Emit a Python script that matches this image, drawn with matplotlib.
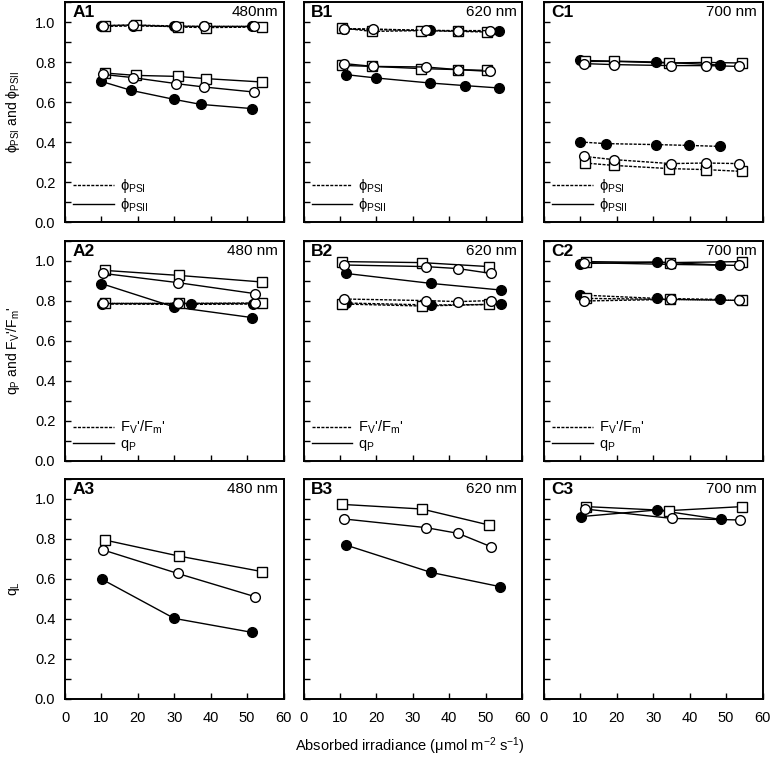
import matplotlib
matplotlib.use("Agg")
import matplotlib.pyplot as plt
from matplotlib.lines import Line2D
from matplotlib.ticker import MultipleLocator, FormatStrFormatter

plt.rcParams["font.family"] = ["Liberation Sans", "DejaVu Sans"]
plt.rcParams["mathtext.default"] = "regular"

# ---- Row 1: phi_PSI (dashed) and phi_PSII (solid) ----
A1_FILL_PSI_X = [10.0, 18.6, 30.0, 38.2, 51.4]
A1_FILL_PSI = [0.978, 0.98, 0.978, 0.978, 0.978]
A1_FILL_X = [10.0, 18.2, 30.0, 37.3, 51.4]
A1_FILL_PSII = [0.703, 0.658, 0.613, 0.588, 0.567]
A1_OPEN_X = [10.5, 18.6, 30.5, 38.2, 51.8]
A1_OPEN_PSI = [0.982, 0.985, 0.98, 0.978, 0.978]
A1_OPEN_PSII = [0.738, 0.722, 0.692, 0.675, 0.650]
A1_SQ_X = [10.9, 19.4, 30.9, 38.6, 54.1]
A1_SQ_PSI = [0.982, 0.985, 0.975, 0.972, 0.975]
A1_SQ_PSII = [0.745, 0.733, 0.728, 0.717, 0.700]

B1_FILL_PSI_X = [11.2, 19.1, 34.7, 42.3, 53.8]
B1_FILL_PSI = [0.965, 0.962, 0.958, 0.955, 0.953]
B1_FILL_X = [11.6, 20.0, 34.7, 44.3, 53.8]
B1_FILL_PSII = [0.737, 0.720, 0.695, 0.682, 0.670]
B1_OPEN_X = [11.2, 19.1, 33.6, 42.3, 51.2]
B1_OPEN_PSI = [0.967, 0.965, 0.958, 0.957, 0.957]
B1_OPEN_PSII = [0.792, 0.778, 0.775, 0.762, 0.753]
B1_SQ_X = [10.5, 18.8, 32.3, 42.3, 50.5]
B1_SQ_PSI = [0.970, 0.953, 0.957, 0.953, 0.950]
B1_SQ_PSII = [0.783, 0.778, 0.767, 0.762, 0.758]

C1_FILL_PSI_X = [10.0, 16.9, 30.7, 39.8, 48.2]
C1_FILL_PSI = [0.400, 0.392, 0.387, 0.383, 0.378]
C1_FILL_X = [10.0, 30.7, 48.2]
C1_FILL_PSII = [0.808, 0.800, 0.785]
C1_OPEN_X = [11.0, 19.1, 34.8, 44.5, 53.5]
C1_OPEN_PSI = [0.328, 0.312, 0.292, 0.295, 0.292]
C1_OPEN_PSII = [0.792, 0.787, 0.782, 0.782, 0.778]
C1_SQ_X = [11.2, 19.1, 34.4, 44.4, 54.4]
C1_SQ_PSI = [0.295, 0.283, 0.267, 0.262, 0.253]
C1_SQ_PSII = [0.803, 0.803, 0.795, 0.798, 0.795]

# ---- Row 2: Fv'/Fm' (dashed) and qP (solid) ----
A2_FILL_FVFM_X = [10.2, 34.5, 51.6]
A2_FILL_FVFM = [0.785, 0.783, 0.785]
A2_FILL_X = [10.0, 30.0, 51.4]
A2_FILL_QP = [0.887, 0.770, 0.717]
A2_OPEN_X = [10.5, 30.9, 52.1]
A2_OPEN_FVFM = [0.788, 0.788, 0.790]
A2_OPEN_QP = [0.938, 0.892, 0.837]
A2_SQ_X = [10.9, 31.2, 54.1]
A2_SQ_FVFM = [0.788, 0.788, 0.788]
A2_SQ_QP = [0.953, 0.928, 0.895]

B2_FILL_X = [11.6, 35.0, 54.1]
B2_FILL_FVFM = [0.790, 0.780, 0.783]
B2_FILL_QP = [0.938, 0.888, 0.855]
B2_OPEN_X = [11.2, 33.6, 42.5, 51.4]
B2_OPEN_FVFM = [0.810, 0.802, 0.797, 0.802]
B2_OPEN_QP = [0.980, 0.972, 0.962, 0.938]
B2_SQ_X = [10.7, 32.5, 50.9]
B2_SQ_FVFM = [0.785, 0.775, 0.783]
B2_SQ_QP = [0.997, 0.992, 0.972]

C2_FILL_X = [10.0, 30.9, 48.2]
C2_FILL_FVFM = [0.830, 0.813, 0.808]
C2_FILL_QP = [0.987, 0.995, 0.980]
C2_OPEN_X = [10.9, 34.8, 53.5]
C2_OPEN_FVFM = [0.800, 0.808, 0.803]
C2_OPEN_QP = [0.992, 0.983, 0.978]
C2_SQ_X = [11.5, 34.5, 54.4]
C2_SQ_FVFM = [0.813, 0.808, 0.803]
C2_SQ_QP = [0.997, 0.992, 0.997]

# ---- Row 3: qL ----
A3_FILL_X = [10.2, 30.0, 51.4]
A3_FILL_QL = [0.598, 0.403, 0.333]
A3_OPEN_X = [10.5, 30.9, 52.1]
A3_OPEN_QL = [0.745, 0.628, 0.512]
A3_SQ_X = [10.9, 31.2, 54.1]
A3_SQ_QL = [0.795, 0.715, 0.637]

B3_FILL_X = [11.6, 35.0, 53.9]
B3_FILL_QL = [0.770, 0.633, 0.562]
B3_OPEN_X = [11.2, 33.6, 42.5, 51.4]
B3_OPEN_QL = [0.900, 0.857, 0.828, 0.762]
B3_SQ_X = [10.7, 32.5, 50.9]
B3_SQ_QL = [0.973, 0.950, 0.870]

C3_FILL_X = [10.1, 31.0, 48.5]
C3_FILL_QL = [0.912, 0.945, 0.898]
C3_OPEN_X = [11.2, 35.1, 53.9]
C3_OPEN_QL = [0.950, 0.903, 0.895]
C3_SQ_X = [11.5, 34.4, 54.4]
C3_SQ_QL = [0.962, 0.942, 0.962]

PANEL_LABELS = [["A1", "B1", "C1"], ["A2", "B2", "C2"], ["A3", "B3", "C3"]]
WAVELENGTHS = [["480nm", "620 nm", "700 nm"],
               ["480 nm", "620 nm", "700 nm"],
               ["480 nm", "620 nm", "700 nm"]]
YLABELS = [r"ϕ$_{PSI}$ and ϕ$_{PSII}$",
           r"q$_P$ and F$_V$'/F$_m$'",
           r"q$_L$"]
LEGEND_LABELS = [[r"ϕ$_{PSI}$", r"ϕ$_{PSII}$"],
                 [r"F$_V$'/F$_m$'", r"q$_P$"]]

DASH = (0, (2.2, 1.0))
STYLE = {
    "fill": dict(marker="o", mfc="black", mec="black"),
    "open": dict(marker="o", mfc="white", mec="black"),
    "sq": dict(marker="s", mfc="white", mec="black"),
}


def draw(ax, x, y, kind, ls="-"):
    ax.plot(x, y, color="black", lw=1.0, ls=ls, ms=7.0, mew=1.0, **STYLE[kind])


fig = plt.figure(figsize=(7.74, 7.57), dpi=100)
lefts = [65 / 774, 303.5 / 774, 544 / 774]
bottoms = [1 - 222 / 757, 1 - 461 / 757, 1 - 699 / 757]
w, h = 218.5 / 774, 220 / 757
axes = [[fig.add_axes([l, b, w, h]) for l in lefts] for b in bottoms]

row1 = [
    [(A1_FILL_PSI_X, A1_FILL_PSI, A1_FILL_X, A1_FILL_PSII, "fill"),
     (A1_SQ_X, A1_SQ_PSI, A1_SQ_X, A1_SQ_PSII, "sq"),
     (A1_OPEN_X, A1_OPEN_PSI, A1_OPEN_X, A1_OPEN_PSII, "open")],
    [(B1_FILL_PSI_X, B1_FILL_PSI, B1_FILL_X, B1_FILL_PSII, "fill"),
     (B1_SQ_X, B1_SQ_PSI, B1_SQ_X, B1_SQ_PSII, "sq"),
     (B1_OPEN_X, B1_OPEN_PSI, B1_OPEN_X, B1_OPEN_PSII, "open")],
    [(C1_FILL_PSI_X, C1_FILL_PSI, C1_FILL_X, C1_FILL_PSII, "fill"),
     (C1_SQ_X, C1_SQ_PSI, C1_SQ_X, C1_SQ_PSII, "sq"),
     (C1_OPEN_X, C1_OPEN_PSI, C1_OPEN_X, C1_OPEN_PSII, "open")],
]
row2 = [
    [(A2_FILL_FVFM_X, A2_FILL_FVFM, A2_FILL_X, A2_FILL_QP, "fill"),
     (A2_SQ_X, A2_SQ_FVFM, A2_SQ_X, A2_SQ_QP, "sq"),
     (A2_OPEN_X, A2_OPEN_FVFM, A2_OPEN_X, A2_OPEN_QP, "open")],
    [(B2_FILL_X, B2_FILL_FVFM, B2_FILL_X, B2_FILL_QP, "fill"),
     (B2_SQ_X, B2_SQ_FVFM, B2_SQ_X, B2_SQ_QP, "sq"),
     (B2_OPEN_X, B2_OPEN_FVFM, B2_OPEN_X, B2_OPEN_QP, "open")],
    [(C2_FILL_X, C2_FILL_FVFM, C2_FILL_X, C2_FILL_QP, "fill"),
     (C2_SQ_X, C2_SQ_FVFM, C2_SQ_X, C2_SQ_QP, "sq"),
     (C2_OPEN_X, C2_OPEN_FVFM, C2_OPEN_X, C2_OPEN_QP, "open")],
]
for r, rows in enumerate([row1, row2]):
    for ax, series in zip(axes[r], rows):
        for xd, dash_y, xs, solid_y, kind in series:
            draw(ax, xd, dash_y, kind, ls=DASH)
            draw(ax, xs, solid_y, kind)

row3 = [
    [(A3_FILL_X, A3_FILL_QL, "fill"), (A3_SQ_X, A3_SQ_QL, "sq"),
     (A3_OPEN_X, A3_OPEN_QL, "open")],
    [(B3_FILL_X, B3_FILL_QL, "fill"), (B3_SQ_X, B3_SQ_QL, "sq"),
     (B3_OPEN_X, B3_OPEN_QL, "open")],
    [(C3_FILL_X, C3_FILL_QL, "fill"), (C3_SQ_X, C3_SQ_QL, "sq"),
     (C3_OPEN_X, C3_OPEN_QL, "open")],
]
for ax, series in zip(axes[2], row3):
    for x, y, kind in series:
        draw(ax, x, y, kind)

for r in range(3):
    for c in range(3):
        ax = axes[r][c]
        ax.set_xlim(0, 60)
        ax.set_ylim(0, 1.1)
        ax.xaxis.set_major_locator(MultipleLocator(10))
        ax.yaxis.set_major_locator(MultipleLocator(0.2))
        ax.yaxis.set_minor_locator(MultipleLocator(0.1))
        ax.tick_params(which="both", direction="in", top=False, right=False,
                       labelsize=10.5, width=1.0, length=4)
        ax.tick_params(axis="y", pad=7)
        ax.tick_params(axis="x", pad=9)
        for sp in ax.spines.values():
            sp.set_linewidth(1.4)
        if c == 0:
            ax.yaxis.set_major_formatter(FormatStrFormatter("%.1f"))
            ax.set_ylabel(YLABELS[r], fontsize=10, labelpad=9)
        else:
            ax.tick_params(labelleft=False)
        if r < 2:
            ax.tick_params(labelbottom=False)
        ax.text(0.035, 0.985, PANEL_LABELS[r][c], transform=ax.transAxes,
                fontsize=12.5, fontweight="bold", va="top", ha="left")
        ax.text(0.975, 0.985, WAVELENGTHS[r][c], transform=ax.transAxes,
                fontsize=11, va="top", ha="right")
        if r < 2:
            handles = [Line2D([], [], color="black", lw=1.0, ls=DASH),
                       Line2D([], [], color="black", lw=1.0)]
            ax.legend(handles, LEGEND_LABELS[r], loc="lower left", frameon=False,
                      fontsize=10.5, handlelength=2.8, handletextpad=0.4,
                      labelspacing=0.05, borderaxespad=0.15,
                      bbox_to_anchor=(0.0, 0.0))

fig.text(410 / 774, 1 - 746 / 757, "Absorbed irradiance (μmol m$^{-2}$ s$^{-1}$)",
         ha="center", va="center", fontsize=10.5)

fig.savefig("out.png", dpi=100)
